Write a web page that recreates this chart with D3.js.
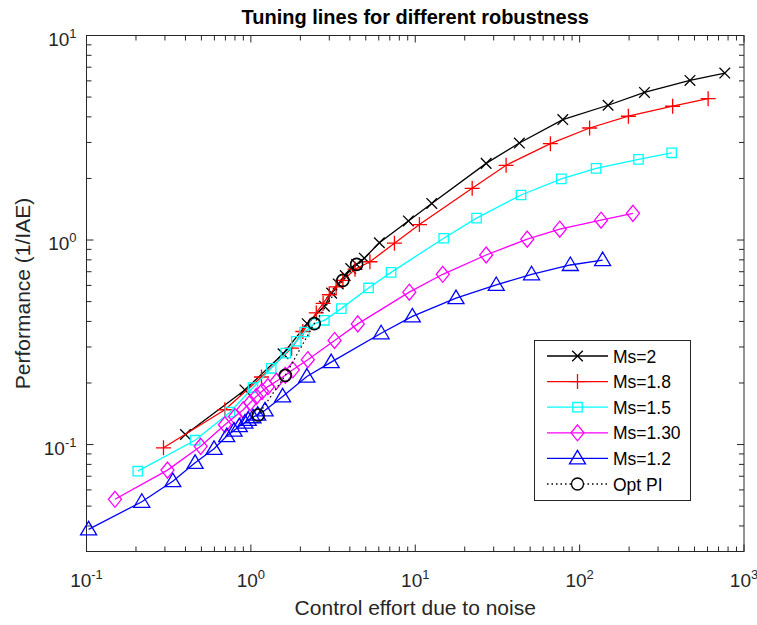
<!DOCTYPE html>
<html>
<head>
<meta charset="utf-8">
<script src="https://cdn.jsdelivr.net/npm/d3@7"></script>
<style>
  body { margin: 0; background: #fff; }
  text { font-family: "Liberation Sans", Arial, Helvetica, sans-serif; fill: #262626; }
</style>
</head>
<body>
<svg id="chart" width="757" height="625"></svg>
<script>
// data (x = control effort, y = 1/IAE)
const ms2X = [0.40, 0.92, 1.57, 2.2, 2.8, 3.1, 3.4, 3.75, 4.05, 4.4, 4.9, 6.05, 9.08, 12.6, 27, 43, 79, 149, 248, 469, 764];
const ms2Y = [0.112, 0.185, 0.278, 0.39, 0.475, 0.55, 0.61, 0.67, 0.725, 0.76, 0.815, 0.97, 1.24, 1.51, 2.37, 2.98, 3.88, 4.56, 5.27, 6.03, 6.55];

const ms18X = [0.294, 0.695, 1.16, 1.77, 2.07, 2.5, 2.75, 3.0, 3.3, 3.63, 4.3, 5.3, 7.47, 10.6, 22.2, 35.7, 66.4, 115, 198, 368, 605];
const ms18Y = [0.0964, 0.148, 0.214, 0.296, 0.357, 0.44, 0.49, 0.54, 0.59, 0.635, 0.72, 0.783, 0.965, 1.19, 1.79, 2.32, 2.96, 3.53, 4.03, 4.51, 4.91];

const ms15X = [0.205, 0.458, 0.746, 1.03, 1.33, 1.63, 1.89, 2.12, 2.44, 2.8, 3.55, 5.2, 7.13, 14.9, 23.6, 44, 77.4, 126, 228, 363];
const ms15Y = [0.0741, 0.105, 0.144, 0.19, 0.236, 0.28, 0.32, 0.355, 0.39, 0.405, 0.462, 0.583, 0.695, 1.02, 1.28, 1.66, 1.99, 2.24, 2.48, 2.67];

const ms13X = [0.149, 0.311, 0.495, 0.695, 0.80, 0.898, 0.99, 1.08, 1.17, 1.27, 1.43, 1.62, 1.8, 2.22, 3.23, 4.47, 9.2, 14.7, 27, 48, 75.7, 135, 211];
const ms13Y = [0.054, 0.075, 0.098, 0.125, 0.137, 0.148, 0.16, 0.172, 0.182, 0.192, 0.204, 0.218, 0.232, 0.26, 0.323, 0.389, 0.556, 0.68, 0.845, 1.01, 1.13, 1.25, 1.35];

const ms12X = [0.103, 0.217, 0.335, 0.458, 0.597, 0.713, 0.79, 0.85, 0.92, 0.964, 1.03, 1.1, 1.22, 1.56, 2.19, 3.08, 6.2, 9.6, 17.7, 31.1, 51, 87.8, 138];
const ms12Y = [0.0385, 0.0525, 0.0662, 0.0814, 0.0953, 0.110, 0.117, 0.123, 0.128, 0.132, 0.136, 0.14, 0.147, 0.172, 0.215, 0.253, 0.35, 0.423, 0.52, 0.603, 0.68, 0.755, 0.798];

// optimal PI points, one per Ms line
const optX = [4.4, 3.63, 2.43, 1.62, 1.107];
const optY = [0.76, 0.635, 0.39, 0.218, 0.1395];

const seriesNames = ["Ms=2", "Ms=1.8", "Ms=1.5", "Ms=1.30", "Ms=1.2", "Opt PI"];
const seriesColors = ["#000000", "#ff0000", "#00ffff", "#ff00ff", "#0000ff", "#000000"];
const seriesMarkers = ["x", "plus", "square", "diamond", "triangle", "circle"];

const xTickValues = [0.1, 1, 10, 100, 1000];
const xTickExp = ["-1", "0", "1", "2", "3"];
const yTickValues = [0.1, 1, 10];
const yTickExp = ["-1", "0", "1"];

const titleText = "Tuning lines for different robustness";
const xLabelText = "Control effort due to noise";
const yLabelText = "Performance (1/IAE)";

// ---- layout
const svg = d3.select("#chart");
const box = {left: 86.5, right: 744, top: 35.5, bottom: 551.5};
const axisColor = "#262626";

const x = d3.scaleLog().domain([0.1, 1000]).range([box.left, box.right]);
const y = d3.scaleLog().domain([0.03, 10]).range([box.bottom, box.top]);

// minor ticks 2..9 of every decade inside the domain
function minorTicks(scale) {
  let [a, b] = scale.domain();
  let out = [];
  for (let e = Math.floor(Math.log10(a)); e < Math.ceil(Math.log10(b)); e++) {
    for (let k = 2; k <= 9; k++) {
      let v = k * Math.pow(10, e);
      if (v > a && v < b) out.push(v);
    }
  }
  return out;
}

const xMinor = minorTicks(x);
const yMinor = minorTicks(y);
const majorLen = 7, minorLen = 5;

let gAxes = svg.append("g");

// ticks pointing inward on all four sides
function tickLines(vals, len, side) {
  gAxes.append("g").selectAll("line").data(vals).enter().append("line")
    .attr("x1", d => side == "b" || side == "t" ? x(d) : (side == "l" ? box.left : box.right))
    .attr("x2", d => side == "b" || side == "t" ? x(d) : (side == "l" ? box.left + len : box.right - len))
    .attr("y1", d => side == "l" || side == "r" ? y(d) : (side == "b" ? box.bottom : box.top))
    .attr("y2", d => side == "l" || side == "r" ? y(d) : (side == "b" ? box.bottom - len : box.top + len))
    .attr("stroke", axisColor)
    .attr("stroke-width", 1);
}
["b", "t"].forEach(s => { tickLines(xTickValues, majorLen, s); tickLines(xMinor, minorLen, s); });
["l", "r"].forEach(s => { tickLines(yTickValues.filter(v => v >= 0.03), majorLen, s); tickLines(yMinor, minorLen, s); });

gAxes.append("rect")
  .attr("x", box.left).attr("y", box.top)
  .attr("width", box.right - box.left).attr("height", box.bottom - box.top)
  .attr("fill", "none").attr("stroke", axisColor).attr("stroke-width", 1);

// tick labels as 10 with superscript exponent
const tickFont = 19, expFont = 13;
xTickValues.forEach(function(v, i) {
  let t = svg.append("text")
    .attr("x", x(v))
    .attr("y", 587)
    .attr("text-anchor", "middle")
    .style("font-size", tickFont + "px");
  t.append("tspan").text("10");
  t.append("tspan").attr("dy", -8).style("font-size", expFont + "px").text(xTickExp[i]);
});
yTickValues.forEach(function(v, i) {
  let t = svg.append("text")
    .attr("x", box.left - 10)
    .attr("y", y(v) + 10)
    .attr("text-anchor", "end")
    .style("font-size", tickFont + "px");
  t.append("tspan").text("10");
  t.append("tspan").attr("dy", -8).style("font-size", expFont + "px").text(yTickExp[i]);
});

svg.append("text")
  .attr("x", (box.left + box.right) / 2).attr("y", 24)
  .attr("text-anchor", "middle")
  .style("font-size", "20px").style("font-weight", "bold")
  .style("fill", "#000")
  .text(titleText);

svg.append("text")
  .attr("x", (box.left + box.right) / 2).attr("y", 615)
  .attr("text-anchor", "middle")
  .style("font-size", "21px")
  .text(xLabelText);

svg.append("text")
  .attr("transform", "translate(30," + ((box.top + box.bottom) / 2) + ") rotate(-90)")
  .attr("text-anchor", "middle")
  .style("font-size", "21px")
  .text(yLabelText);

// ---- marker shapes
function markerPath(kind) {
  if (kind == "x") { let s = 5.3; return `M${-s},${-s}L${s},${s}M${-s},${s}L${s},${-s}`; }
  if (kind == "plus") { let s = 7.5; return `M${-s},0L${s},0M0,${-s}L0,${s}`; }
  if (kind == "square") { let s = 4.7; return `M${-s},${-s}H${s}V${s}H${-s}Z`; }
  if (kind == "diamond") { return "M0,-8L6.5,0L0,8L-6.5,0Z"; }
  if (kind == "triangle") { return "M0,-8L8,5.5L-8,5.5Z"; }
  return d3.arc()({innerRadius: 0, outerRadius: 6, startAngle: 0, endAngle: 2 * Math.PI});
}

const line = d3.line().x(d => x(d[0])).y(d => y(d[1]));

const allX = [ms2X, ms18X, ms15X, ms13X, ms12X, optX];
const allY = [ms2Y, ms18Y, ms15Y, ms13Y, ms12Y, optY];

let plot = svg.append("g");

allX.forEach(function(xs, i) {
  let pts = xs.map((v, j) => [v, allY[i][j]]);
  let g = plot.append("g");
  g.append("path")
    .datum(pts)
    .attr("d", line)
    .attr("fill", "none")
    .attr("stroke", seriesColors[i])
    .attr("stroke-width", 1.3)
    .attr("stroke-dasharray", i == 5 ? "1.5,3" : null);
  g.selectAll(".m").data(pts).enter().append("path")
    .attr("class", "m")
    .attr("transform", d => "translate(" + x(d[0]) + "," + y(d[1]) + ")")
    .attr("d", markerPath(seriesMarkers[i]))
    .attr("fill", "none")
    .attr("stroke", seriesColors[i])
    .attr("stroke-width", i == 5 ? 1.6 : 1.3);
});

// ---- legend
const lg = {x: 534.5, y: 340.5, w: 156, h: 160, row0: 356, step: 25.6};
let legend = svg.append("g");
legend.append("rect")
  .attr("x", lg.x).attr("y", lg.y).attr("width", lg.w).attr("height", lg.h)
  .attr("fill", "#fff").attr("stroke", axisColor).attr("stroke-width", 1);

seriesNames.forEach(function(name, i) {
  let ry = lg.row0 + i * lg.step;
  legend.append("line")
    .attr("x1", 547).attr("x2", 608).attr("y1", ry).attr("y2", ry)
    .attr("stroke", seriesColors[i])
    .attr("stroke-width", 1.3)
    .attr("stroke-dasharray", i == 5 ? "1.5,3" : null);
  legend.append("path")
    .attr("transform", "translate(577.5," + ry + ")")
    .attr("d", markerPath(seriesMarkers[i]))
    .attr("fill", i == 5 ? "#fff" : "none")
    .attr("stroke", seriesColors[i])
    .attr("stroke-width", 1.3);
  legend.append("text")
    .attr("x", 613).attr("y", ry + 6.5)
    .style("font-size", "17.5px")
    .style("fill", "#000")
    .text(name);
});
</script>
</body>
</html>
